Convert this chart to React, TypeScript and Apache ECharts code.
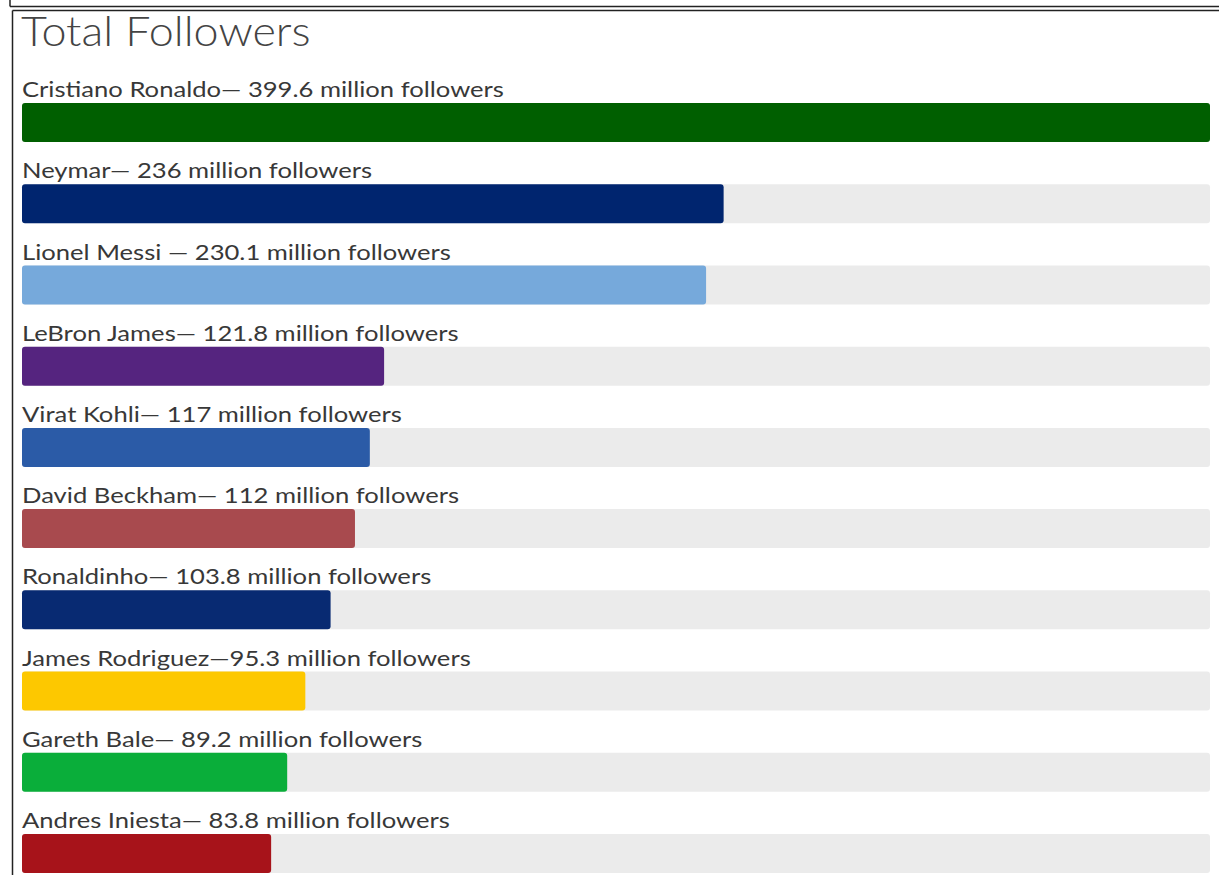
import React, { useEffect, useRef } from "react";
import * as echarts from "echarts";

const names = [
  "Cristiano Ronaldo",
  "Neymar",
  "Lionel Messi ",
  "LeBron James",
  "Virat Kohli",
  "David Beckham",
  "Ronaldinho",
  "James Rodriguez",
  "Gareth Bale",
  "Andres Iniesta",
];
const separators = ["— ", "— ", "— ", "— ", "— ", "— ", "— ", "—", "— ", "— "];
const followers = [399.6, 236, 230.1, 121.8, 117, 112, 103.8, 95.3, 89.2, 83.8];
const barColors = [
  "#005f00",
  "#00256f",
  "#76a9db",
  "#55247f",
  "#2b5ba7",
  "#a84a4e",
  "#082a72",
  "#fdc800",
  "#0aae3a",
  "#a7131a",
];
const title = "Total Followers";

const BAR_W = 39;

export default function App() {
  const ref = useRef<HTMLDivElement>(null);
  useEffect(() => {
    if (!ref.current) return;
    const chart = echarts.init(ref.current, undefined, { renderer: "svg" });
    const lineStyle = { stroke: "#222", lineWidth: 1.5 };
    chart.setOption({
      animation: false,
      backgroundColor: "#ffffff",
      grid: { left: 22, right: 9, top: 82, bottom: 6, containLabel: false },
      xAxis: {
        type: "value",
        min: 0,
        max: Math.max(...followers),
        show: false,
      },
      yAxis: {
        type: "category",
        inverse: true,
        data: names,
        show: false,
      },
      series: [
        {
          type: "bar",
          barWidth: BAR_W,
          showBackground: true,
          backgroundStyle: { color: "#ebebeb", borderRadius: 3 },
          itemStyle: { borderRadius: 3 },
          data: followers.map((v, i) => ({
            value: v,
            itemStyle: { color: barColors[i] },
          })),
          label: { show: false },
        },
        {
          type: "custom",
          data: names.map((n, i) => [0, i]),
          encode: { x: 0, y: 1 },
          silent: true,
          renderItem: (params: any, api: any) => {
            const i = params.dataIndex;
            const pt = api.coord([0, i]);
            return {
              type: "text",
              x: pt[0],
              y: pt[1] - BAR_W / 2 - 14,
              scaleX: 1.22,
              style: {
                text: `${names[i]}${separators[i]}${followers[i]} million followers`,
                fontFamily: "Lato",
                fontSize: 21,
                fill: "#383838",
                align: "left",
                verticalAlign: "middle",
              },
            };
          },
        },
      ],
      graphic: [
        {
          type: "text",
          x: 21,
          y: 10,
          scaleX: 1.095,
          style: {
            text: title,
            fontFamily: "Lato",
            fontWeight: 300,
            fontSize: 41,
            fill: "#444444",
            align: "left",
            verticalAlign: "top",
          },
        },
        { type: "line", shape: { x1: 10, y1: 0, x2: 10, y2: 6.5 }, style: lineStyle },
        { type: "line", shape: { x1: 10, y1: 6.5, x2: 1219, y2: 6.5 }, style: lineStyle },
        { type: "line", shape: { x1: 12.5, y1: 10.5, x2: 1219, y2: 10.5 }, style: lineStyle },
        { type: "line", shape: { x1: 12.5, y1: 10.5, x2: 12.5, y2: 900 }, style: lineStyle },
      ],
    });
    return () => chart.dispose();
  }, []);
  return (
    <div
      style={{
        position: "fixed",
        left: 0,
        top: 0,
        width: 1219,
        height: 875,
        overflow: "hidden",
        background: "#fff",
      }}
    >
      <div ref={ref} style={{ width: 1219, height: 900 }} />
    </div>
  );
}
